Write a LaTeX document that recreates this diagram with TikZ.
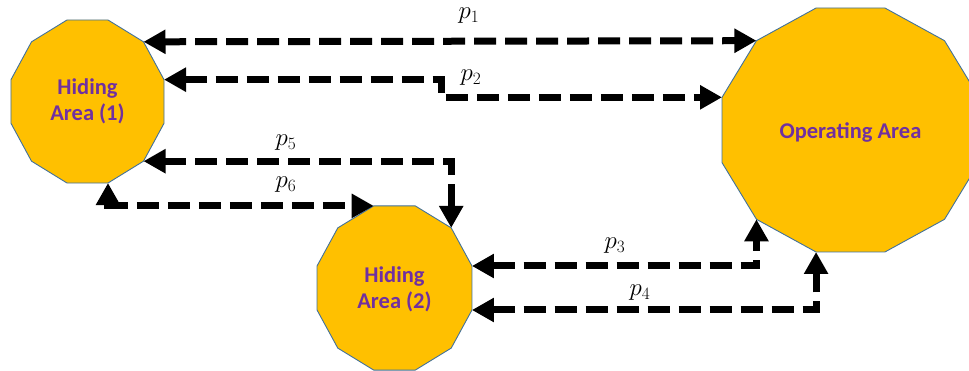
\documentclass[tikz,border=0pt]{standalone}
\usepackage{fontspec}
\setmainfont{Carlito}
\usetikzlibrary{arrows.meta}
\definecolor{gold}{RGB}{255,192,0}
\definecolor{edgeblue}{RGB}{65,113,156}
\definecolor{purp}{RGB}{112,48,160}
\tikzset{
  areatext/.style={text=purp, font=\fontsize{22.5}{26}\selectfont\bfseries, align=center, inner sep=0pt},
  areashape/.style={fill=gold, draw=edgeblue, line width=0.9pt},
  link/.style={line width=7pt, dash pattern=on 22pt off 9pt,
    {Triangle[length=22pt,width=23pt]}-{Triangle[length=22pt,width=23pt]}},
  plabel/.style={font=\fontsize{24}{28}\selectfont, inner sep=0pt}
}
\newcommand\dodecagon[5]{%
  \foreach \k in {0,...,11}{\coordinate (#1-\k) at ({#2+#4*cos(15+30*\k)},{#3-#5*sin(15+30*\k)});}
  \draw[areashape] (#1-0) \foreach \k in {1,...,11}{-- (#1-\k)} -- cycle;
}
\begin{document}
\begin{tikzpicture}[x=1pt,y=-1pt]
\useasboundingbox (0,0) rectangle (969,371);
\clip (0,0) rectangle (969,371);
% shapes
\dodecagon{h1}{87.5}{101.5}{79.2}{84.4}
\dodecagon{h2}{394.5}{288}{80.2}{85}
\dodecagon{op}{850.5}{130}{133}{126.3}
\node[areatext] (ha1) at (87.5,101.5) {Hiding\\Area (1)};
\node[areatext] (ha2) at (394.5,289) {Hiding\\Area (2)};
\node[areatext] (oa) at (850.5,132) {Operating Area};
% connectors
\draw[link] (h1-1) -- (op-4);
\draw[link] (h1-0) -- ++(277,0) |- (op-5);
\draw[link] (h1-10) -| (h2-1);
\draw[link] (h1-9) |- (h2-3);
\draw[link] (h2-0) -| (op-7);
\draw[link] (h2-11) -| (op-8);
% labels
\node[plabel] (l1) at (469,16) {$p_1$};
\node[plabel] (l2) at (471,78) {$p_2$};
\node[plabel] (l5) at (286,143) {$p_5$};
\node[plabel] (l6) at (286,185) {$p_6$};
\node[plabel] (l3) at (615,246) {$p_3$};
\node[plabel] (l4) at (640,293) {$p_4$};
\end{tikzpicture}
\end{document}
